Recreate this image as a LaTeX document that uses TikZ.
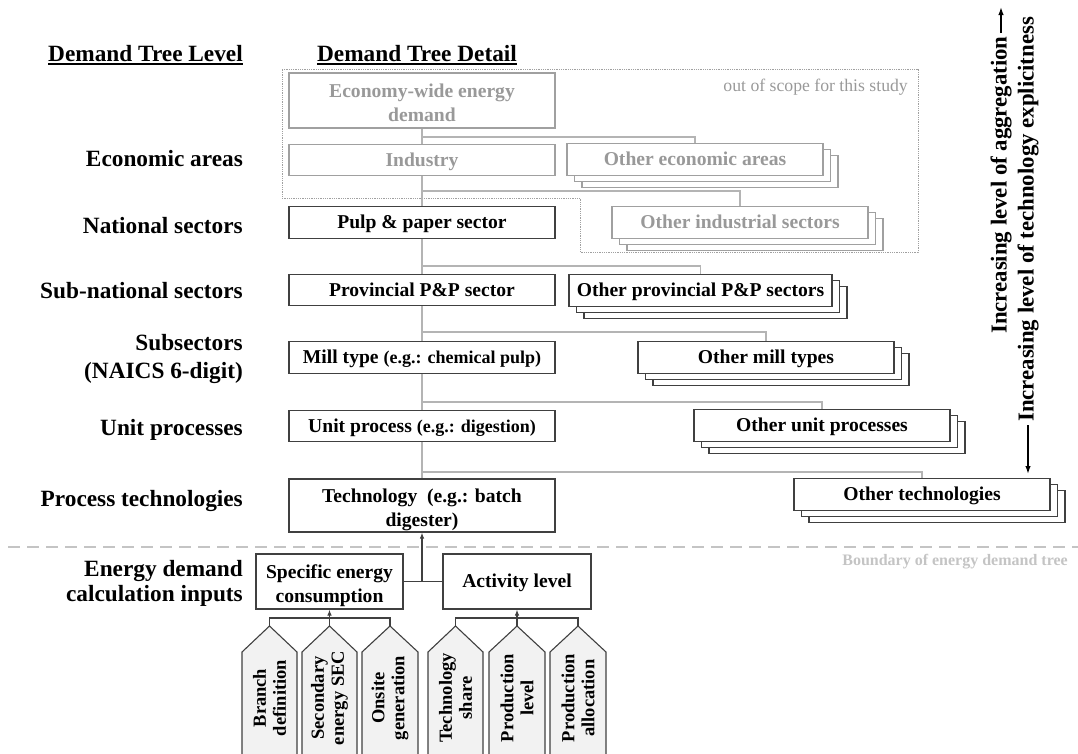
\documentclass[tikz,border=0pt]{standalone}
\usepackage{fontspec}
\setmainfont{Liberation Serif}
\usetikzlibrary{arrows.meta,calc,shadows}
\definecolor{lgray}{HTML}{A0A0A0}
\definecolor{tgray}{HTML}{999999}
\definecolor{dline}{HTML}{404040}
\definecolor{pfill}{HTML}{F2F2F2}
\definecolor{sline}{HTML}{B4B4B4}
\definecolor{bgray}{HTML}{C4C4C4}
\begin{document}
\begin{tikzpicture}[x=1pt,y=-1pt,
  lab/.style={font=\fontsize{23.3}{28}\selectfont\bfseries, inner sep=0pt, align=right},
  boxtext/.style={font=\fontsize{19.6}{23.5}\selectfont\bfseries},
  dbox/.style={boxtext, draw=dline, line width=1.1pt, fill=white, minimum width=266pt, minimum height=31.5pt, inner sep=1pt, align=center, text height=15pt, text depth=2.5pt},
  twoline/.style={text height=42pt, text depth=1pt},
  gbox/.style={dbox, draw=lgray, text=tgray},
  dstack/.style={dbox, minimum width=256pt,
     copy shadow={shadow xshift=15pt, shadow yshift=-12pt, draw=dline, fill=white, line width=1.1pt},
     copy shadow={shadow xshift=7.5pt, shadow yshift=-6pt, draw=dline, fill=white, line width=1.1pt}},
  gstack/.style={dbox, minimum width=256pt, draw=lgray, text=tgray,
     copy shadow={shadow xshift=15pt, shadow yshift=-12pt, draw=lgray, fill=white, line width=1.1pt},
     copy shadow={shadow xshift=7.5pt, shadow yshift=-6pt, draw=lgray, fill=white, line width=1.1pt}},
  stem/.style={draw=sline, line width=1.2pt},
  dconn/.style={draw=dline, line width=1.1pt},
  tip/.style={-{Latex[length=6pt,width=4.5pt]}},
  pent/.style={draw=dline, line width=1.1pt, fill=pfill},
  ptext/.style={font=\fontsize{18.5}{20}\selectfont\bfseries, rotate=90, align=center, inner sep=0pt},
  rtext/.style={font=\fontsize{22.8}{27}\selectfont\bfseries, rotate=90, inner sep=3pt},
  bigarrow/.style={draw=black, line width=1.4pt, -{Latex[length=8pt,width=5.5pt]}}
]
\path[use as bounding box] (0,0) rectangle (1078,753);
\clip (0,0) rectangle (1078,753);

% headers
\node[lab, anchor=base east] (hlev) at (243,61) {Demand Tree Level};
\node[lab, anchor=base] (hdet) at (417,61) {Demand Tree Detail};
\draw[line width=1.6pt] ($(hlev.base west)+(0,3)$) -- ($(hlev.base east)+(0,3)$);
\draw[line width=1.6pt] ($(hdet.base west)+(0,3)$) -- ($(hdet.base east)+(0,3)$);

% left labels
\node[lab, anchor=base east] (l1) at (243,166) {Economic areas};
\node[lab, anchor=base east] (l2) at (243,233) {National sectors};
\node[lab, anchor=base east] (l3) at (243,298) {Sub-national sectors};
\node[lab, anchor=east] (l4) at (243,359) {Subsectors\\(NAICS 6-digit)};
\node[lab, anchor=base east] (l5) at (243,435) {Unit processes};
\node[lab, anchor=base east] (l6) at (243,506) {Process technologies};
\node[lab, anchor=east, font=\fontsize{23.3}{25}\selectfont\bfseries] (l7) at (243,583) {Energy demand\\calculation inputs};

% out of scope region
\draw[lgray, densely dotted, line width=0.8pt] (282,69) -- (918,69) -- (918,252) -- (580,252) -- (580,198) -- (282,198) -- cycle;
\node[anchor=east, text=tgray, font=\fontsize{17.7}{20}\selectfont, inner sep=0pt] (oos) at (908,87) {out of scope for this study};

% branch coordinates
\coordinate (b1) at (422,137);
\coordinate (b2) at (422,191);
\coordinate (b3) at (422,266);
\coordinate (b4) at (422,332);
\coordinate (b5) at (422,402);
\coordinate (b6) at (422,472);

% main column boxes
\node[gbox, twoline, minimum height=55pt] (econ) at (422,100.5) {Economy-wide energy\\demand};
\node[gbox] (ind) at (422,160) {Industry};
\node[dbox] (pulp) at (422,222.5) {Pulp \& paper sector};
\node[dbox] (prov) at (422,290) {Provincial P\&P sector};
\node[dbox] (mill) at (422,357.5) {Mill type {\fontsize{18}{21}\selectfont(e.g.: chemical pulp)}};
\node[dbox] (unit) at (422,426) {Unit process {\fontsize{18}{21}\selectfont(e.g.: digestion)}};
\node[dbox, twoline, minimum height=53pt] (tech) at (422,505.5) {Technology\ \ (e.g.: batch\\digester)};

% stacks
\node[gstack] (oea) at (695,159.5) {Other economic areas};
\node[gstack] (ois) at (740,222.5) {Other industrial sectors};
\node[dstack, minimum width=263pt] (opp) at (700.5,290.5) {Other provincial P\&P sectors};
\node[dstack] (omt) at (766,357.5) {Other mill types};
\node[dstack] (oup) at (822,425.5) {Other unit processes};
\node[dstack] (ote) at (922,494.5) {Other technologies};

% stem connectors
\draw[stem] (econ.south) -- (ind.north);
\draw[stem] (b1) -| (oea.north);
\draw[stem] (ind.south) -- (pulp.north);
\draw[stem] (b2) -| (ois.north);
\draw[stem] (pulp.south) -- (prov.north);
\draw[stem] (b3) -| (opp.north);
\draw[stem] (prov.south) -- (mill.north);
\draw[stem] (b4) -| (omt.north);
\draw[stem] (mill.south) -- (unit.north);
\draw[stem] (b5) -| (oup.north);
\draw[stem] (unit.south) -- (tech.north);
\draw[stem] (b6) -| (ote.north);

% boundary
\coordinate (dl) at (8,547);
\coordinate (dr) at (1078,547);
\draw[bgray, line width=2pt, dash pattern=on 12pt off 7pt] (dl) -- (dr);
\node[anchor=east, text=bgray, font=\fontsize{16}{19}\selectfont\bfseries, inner sep=0pt] (bnd) at (1068,562) {Boundary of energy demand tree};

% inputs
\node[dbox, twoline, minimum width=147pt, minimum height=55pt] (sec) at (329.5,581.5) {Specific energy\\consumption};
\node[dbox, minimum width=148pt, minimum height=55pt] (act) at (517,581.5) {Activity level};
\coordinate (mid) at (tech.south |- sec.east);
\draw[dconn] (sec.east) -- (act.west);
\draw[dconn, tip] (mid) -- (tech.south);

% pentagons
\draw[pent] (242,770) -- (242,652) -- (269.5,626) -- (297,652) -- (297,770);
\draw[pent] (302,770) -- (302,652) -- (329.5,626) -- (357,652) -- (357,770);
\draw[pent] (362,770) -- (362,652) -- (390,626) -- (418,652) -- (418,770);
\draw[pent] (428,770) -- (428,652) -- (455.5,626) -- (483,652) -- (483,770);
\draw[pent] (489,770) -- (489,652) -- (517,626) -- (545,652) -- (545,770);
\draw[pent] (550,770) -- (550,652) -- (578,626) -- (606,652) -- (606,770);
\coordinate (t1) at (269.5,626);
\coordinate (t2) at (329.5,626);
\coordinate (t3) at (390,626);
\coordinate (t4) at (455.5,626);
\coordinate (t5) at (517,626);
\coordinate (t6) at (578,626);
\coordinate (bar) at (0,618);
\node[ptext] (p1) at (269.5,698) {Branch\\definition};
\node[ptext] (p2) at (329.5,698) {Secondary\\energy SEC};
\node[ptext] (p3) at (390,698) {Onsite\\generation};
\node[ptext] (p4) at (455.5,698) {Technology\\share};
\node[ptext] (p5) at (517,698) {Production\\level};
\node[ptext] (p6) at (578,698) {Production\\allocation};
\draw[dconn] (t1) -- (t1 |- bar) -- (t3 |- bar) -- (t3);
\draw[dconn, tip] (t2) -- (sec.south);
\draw[dconn] (t4) -- (t4 |- bar) -- (t6 |- bar) -- (t6);
\draw[dconn, tip] (t5) -- (act.south);

% right side
\node[rtext, anchor=west] (r1) at (1001,337) {Increasing level of aggregation};
\node[rtext, anchor=west] (r2) at (1028,425) {Increasing level of technology explicitness};
\coordinate (r1tip) at (1001,7);
\coordinate (r2tip) at (1028,474);
\draw[bigarrow] (r1.east) -- (r1tip);
\draw[bigarrow] (r2.west) -- (r2tip);
\end{tikzpicture}
\end{document}
